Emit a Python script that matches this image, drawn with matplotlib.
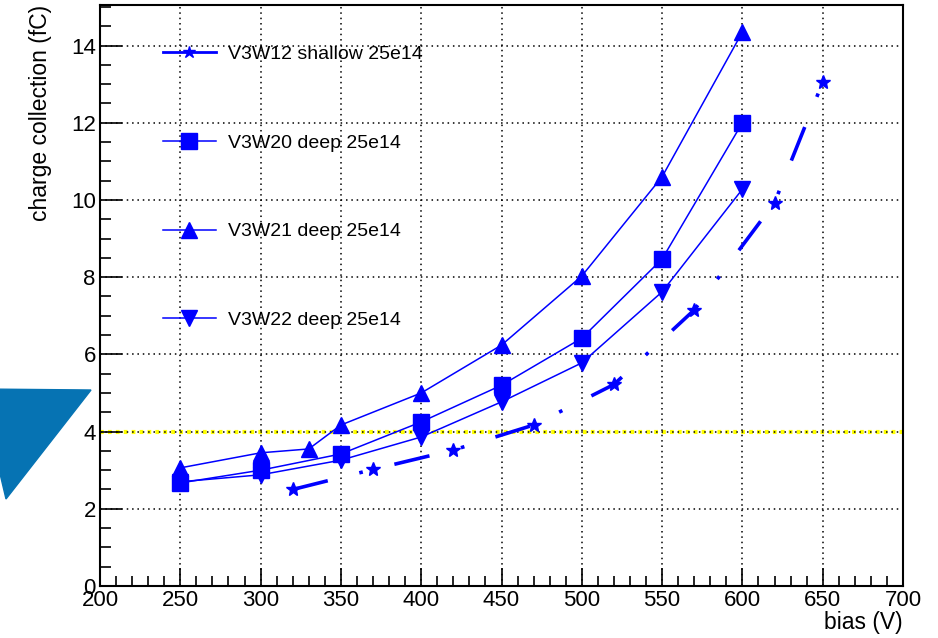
import matplotlib
matplotlib.use("Agg")
import matplotlib.pyplot as plt
from matplotlib.lines import Line2D
from matplotlib.patches import Polygon
from matplotlib.ticker import MultipleLocator

plt.rcParams['font.family'] = ['Liberation Sans', 'DejaVu Sans']

# data
bias_w12 = [320, 370, 420, 470, 520, 570, 620, 650]
q_w12 = [2.5, 3.02, 3.52, 4.17, 5.22, 7.15, 9.93, 13.05]

bias_deep = [250, 300, 350, 400, 450, 500, 550, 600]
q_w20 = [2.67, 3.0, 3.42, 4.25, 5.2, 6.42, 8.47, 12.0]
q_w22 = [2.7, 2.88, 3.26, 3.86, 4.77, 5.78, 7.62, 10.28]

bias_w21 = [250, 300, 330, 350, 400, 450, 500, 550, 600]
q_w21 = [3.06, 3.45, 3.55, 4.17, 5.0, 6.24, 8.03, 10.6, 14.35]

labels = ["V3W12 shallow 25e14", "V3W20 deep 25e14",
          "V3W21 deep 25e14", "V3W22 deep 25e14"]
threshold = 4.0

blue = "#0000ff"

fig = plt.figure(figsize=(9.38, 6.38), dpi=100)
ax = fig.add_axes([100/938, 52/638, 803/938, 581/638])

ax.axhline(threshold, color="#ffff00", lw=3, ls=(0, (0.9, 1.0)), zorder=1)

ax.plot(bias_w12, q_w12, color=blue, lw=2.6, ls=(0, (10, 9, 1, 9)),
        marker="*", ms=10, zorder=3)
ax.plot(bias_deep, q_w20, color=blue, lw=1.1, marker="s", ms=12, zorder=3)
ax.plot(bias_w21, q_w21, color=blue, lw=1.1, marker="^", ms=12, zorder=3)
ax.plot(bias_deep, q_w22, color=blue, lw=1.1, marker="v", ms=12, zorder=3)

ax.set_xlim(200, 700)
ax.set_ylim(0, 15.05)
ax.xaxis.set_major_locator(MultipleLocator(50))
ax.xaxis.set_minor_locator(MultipleLocator(10))
ax.yaxis.set_major_locator(MultipleLocator(2))
ax.yaxis.set_minor_locator(MultipleLocator(0.5))
ax.tick_params(which="both", direction="in", top=False, right=False,
               labelsize=16, width=1.2, pad=3)
ax.tick_params(axis="y", which="major", length=16)
ax.tick_params(axis="y", which="minor", length=8)
ax.tick_params(axis="x", which="major", length=13)
ax.tick_params(axis="x", which="minor", length=7)
ax.grid(True, which="major", color="black", ls=(0, (1, 2.5)), lw=1.1)
for s in ax.spines.values():
    s.set_linewidth(1.5)

ax.set_xlabel("bias (V)", fontsize=16.5, loc="right", labelpad=0)
ax.set_ylabel("charge collection (fC)", fontsize=16.5, loc="top", labelpad=14)

handles = [
    Line2D([], [], color=blue, lw=2, marker="*", ms=9),
    Line2D([], [], color=blue, lw=1.1, marker="s", ms=12),
    Line2D([], [], color=blue, lw=1.1, marker="^", ms=12),
    Line2D([], [], color=blue, lw=1.1, marker="v", ms=12),
]
ax.legend(handles, labels, loc="upper left", bbox_to_anchor=(0.0785, 0.93),
          frameon=False, fontsize=14, labelspacing=3.65, handlelength=2.7,
          handletextpad=0.65, borderpad=0, borderaxespad=0)

# decorative triangle at left
tri = Polygon([[-20/938, 1 - 389/638], [91/938, 1 - 390/638], [6/938, 1 - 499/638]],
              closed=True, transform=fig.transFigure, color="#0673b3",
              clip_on=False)
fig.patches.append(tri)

fig.savefig("out.png", dpi=100)
